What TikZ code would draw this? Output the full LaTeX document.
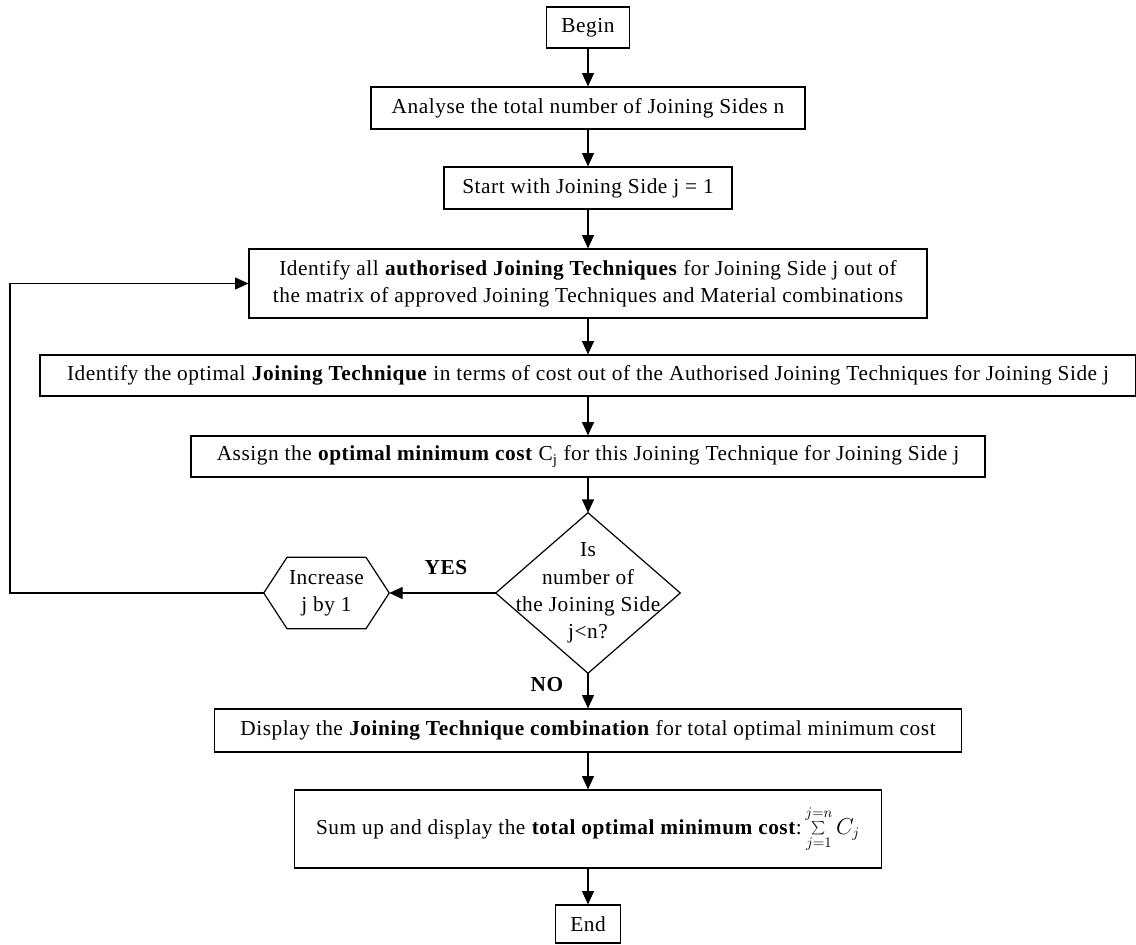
\documentclass[tikz,border=0pt]{standalone}
\usepackage{fontspec}
\setmainfont{Liberation Serif}[LetterSpace=2.5]
\usetikzlibrary{arrows.meta}
\begin{document}
\begin{tikzpicture}[x=0.75pt,y=-0.75pt,
  every node/.style={font=\fontsize{16}{20.5}\selectfont, inner sep=0pt, align=center},
  box/.style 2 args={draw, line width=0.9pt, minimum width=#1*0.75pt, minimum height=#2*0.75pt},
  flow/.style={line width=0.9pt, -{Triangle[length=10pt,width=9pt]}},
  outline/.style={line width=0.9pt, line join=miter},
  answer/.style={font=\fontsize{16}{18}\selectfont\bfseries}
]
% page frame
\useasboundingbox (0,0) rectangle (1136,945);

% process steps
\node[box={83}{41}]   (begin)    at (588,27.5)  {Begin};
\node[box={434}{42}]  (analyse)  at (588,108)   {Analyse the total number of Joining Sides n};
\node[box={288}{42}]  (start)    at (588,188)   {Start with Joining Side j = 1};
\node[box={678}{69}]  (identall) at (588,283.5) {Identify all \textbf{authorised Joining Techniques} for Joining Side j out of\\
  the matrix of approved Joining Techniques and Material combinations};
\node[box={1096}{41}] (identopt) at (588,375.5) {Identify the optimal \textbf{Joining Technique} in terms of cost out of the Authorised Joining Techniques for Joining Side j};
\node[box={794}{41}]  (assign)   at (588,456.5) {Assign the \textbf{optimal minimum cost} C\textsubscript{j} for this Joining Technique for Joining Side j};

% decision
\node[minimum width=184*0.75pt, minimum height=160*0.75pt] (dec) at (588,593)
  {Is\\number of\\the Joining Side\\j<n?};
\draw[outline] (dec.north) -- (dec.east) -- (dec.south) -- (dec.west) -- cycle;

% loop counter step
\node[minimum width=125*0.75pt, minimum height=71*0.75pt] (inc) at (326.5,593) {Increase\\j by 1};
\draw[outline] (inc.west) -- ([xshift=17.5pt]inc.north west) -- ([xshift=-17.5pt]inc.north east)
  -- (inc.east) -- ([xshift=-17.5pt]inc.south east) -- ([xshift=17.5pt]inc.south west) -- cycle;

% results
\node[box={747}{43}] (display) at (588,730.5) {Display the \textbf{Joining Technique combination} for total optimal minimum cost};
\node[box={587}{78}] (sum)     at (588,829)   {Sum up and display the \textbf{total optimal minimum cost}:\,$\sum\limits_{j=1}^{j=n}C_j$};
\node[box={65}{38}]  (end)     at (588,924)   {End};

% answers
\node[answer] (yes) at (446,568) {YES};
\node[answer] (no)  at (547,685) {NO};

\coordinate (loopturn) at (10,593);

% connectors
\draw[flow] (begin) -- (analyse);
\draw[flow] (analyse) -- (start);
\draw[flow] (start) -- (identall);
\draw[flow] (identall) -- (identopt);
\draw[flow] (identopt) -- (assign);
\draw[flow] (assign) -- (dec);
\draw[flow] (dec.west) -- (inc.east);
\draw[flow] (inc.west) -- (loopturn) |- (identall.west);
\draw[flow] (dec.south) -- (display);
\draw[flow] (display) -- (sum);
\draw[flow] (sum) -- (end);
\end{tikzpicture}
\end{document}
